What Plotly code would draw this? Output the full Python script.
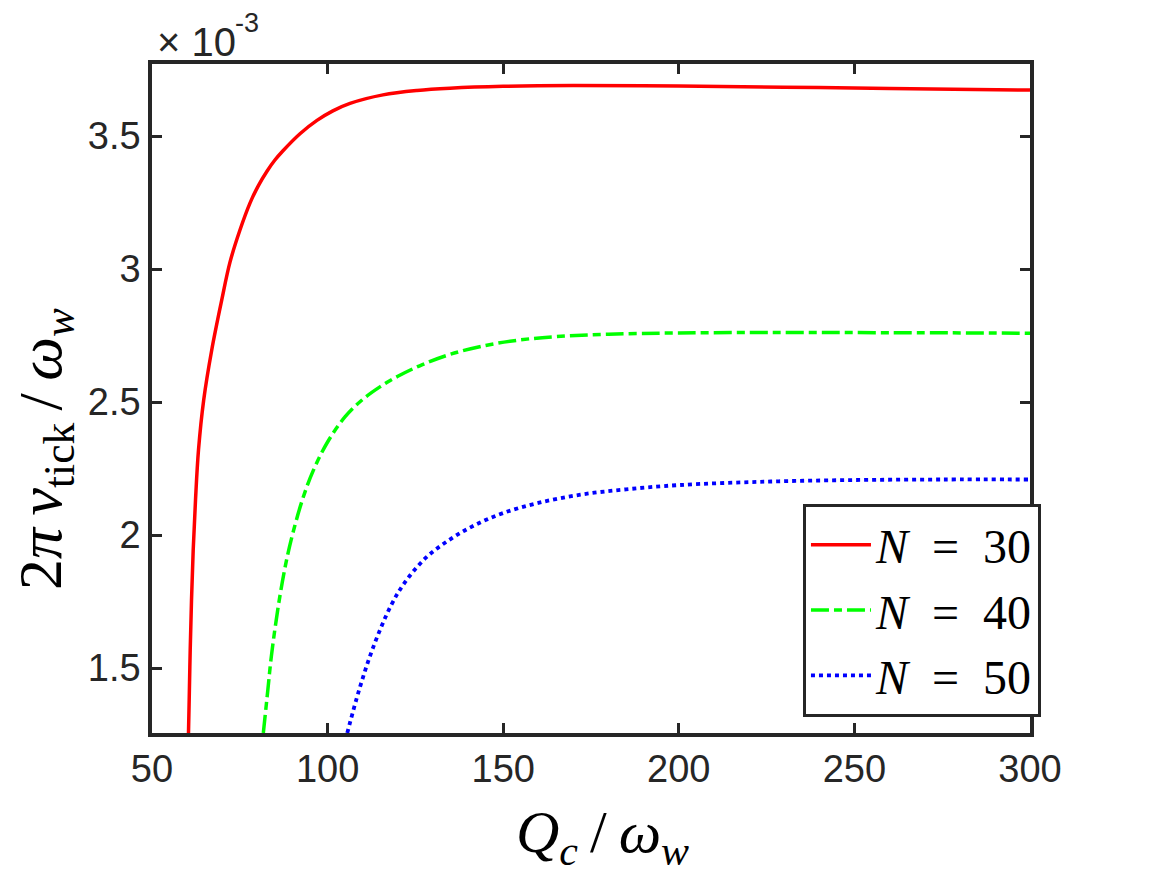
import plotly.graph_objects as go

# Data (y in units of 1e-3)
x_n30 = [60.39, 60.59, 60.88, 61.25, 61.73, 62.39, 63.24, 64.72, 67.0, 69.85, 72.21, 75.0, 77.9,
         80.3, 82.74, 85.0, 87.3, 92.14, 96.98, 101.5, 106.38, 115.77, 125.45, 134.85, 150, 170,
         200, 230, 260, 300]
y_n30 = [1.256, 1.380, 1.568, 1.756, 1.944, 2.132, 2.320, 2.508, 2.695, 2.883, 3.026, 3.145, 3.248,
         3.314, 3.368, 3.410, 3.445, 3.509, 3.559, 3.595, 3.623, 3.655, 3.6715, 3.680, 3.687, 3.690,
         3.688, 3.684, 3.679, 3.673]

x_n40 = [81.7, 83.0, 84.0, 86.0, 88.0, 90.0, 93.0, 96.0, 100.0, 105.0, 110.0, 115.0, 120.0, 127.0,
         135.0, 145.0, 155.0, 165.0, 180.0, 200.0, 225.0, 260.0, 300.0]
y_n40 = [1.256, 1.42, 1.546, 1.736, 1.886, 2.002, 2.140, 2.245, 2.350, 2.445, 2.510, 2.558, 2.597,
         2.641, 2.680, 2.713, 2.734, 2.746, 2.755, 2.760, 2.7615, 2.761, 2.759]

x_n50 = [105.6, 109.0, 113.0, 118.0, 122.0, 128.0, 135.0, 142.0, 150.0, 160.0, 172.0, 185.0, 200.0,
         225.0, 250.0, 275.0, 300.0]
y_n50 = [1.256, 1.419, 1.579, 1.734, 1.822, 1.915, 1.985, 2.038, 2.083, 2.121, 2.152, 2.172, 2.188,
         2.201, 2.207, 2.209, 2.209]

x_ticks = [50, 100, 150, 200, 250, 300]
y_ticks = [1.5, 2, 2.5, 3, 3.5]
y_ticktext = ["1.5", "2", "2.5", "3", "3.5"]

sp = "\u2002"
th = "\u2009"
series = [
    (x_n30, y_n30, f"<i>N</i>{sp}={sp}30", "#FF0000", "solid", 3.5),
    (x_n40, y_n40, f"<i>N</i>{sp}={sp}40", "#00FF00", "18px,5px,8px,5px", 3.5),
    (x_n50, y_n50, f"<i>N</i>{sp}={sp}50", "#0000FF", "4px,4px", 3.8),
]

fig = go.Figure()
for xs, ys, name, color, dash, w in series:
    fig.add_trace(go.Scatter(
        x=xs, y=ys, mode="lines", name=name,
        line=dict(color=color, width=w, dash=dash, shape="spline", smoothing=1.0),
    ))

axis_color = "#262626"
sans = "Liberation Sans, Arial, sans-serif"
serif = "Liberation Serif, Times New Roman, serif"
tickfont = dict(family=sans, size=38, color=axis_color)

fig.update_layout(
    width=1167, height=875,
    margin=dict(l=152, r=137, t=64, b=142),
    paper_bgcolor="white", plot_bgcolor="white",
    showlegend=True,
    legend=dict(
        x=1.0125, y=0.024, xanchor="right", yanchor="bottom",
        bgcolor="white", bordercolor=axis_color, borderwidth=3,
        font=dict(family=serif, size=48, color="black"),
        tracegroupgap=0, itemwidth=60,
    ),
    xaxis=dict(
        range=[50, 300], tickvals=x_ticks, ticks="inside", ticklen=10, tickwidth=2.5,
        tickcolor=axis_color, showline=True, linecolor=axis_color, linewidth=3.5,
        mirror="ticks", showgrid=False, zeroline=False, tickfont=tickfont,
    ),
    yaxis=dict(
        range=[1.256, 3.771], tickvals=y_ticks, ticktext=y_ticktext, ticks="inside",
        ticklen=10, tickwidth=2.5, tickcolor=axis_color, showline=True,
        linecolor=axis_color, linewidth=3.5, mirror="ticks", showgrid=False,
        zeroline=False, tickfont=tickfont,
    ),
    annotations=[
        dict(text="× 10", xref="paper", yref="paper", x=(155 - 152) / 878, y=1.0,
             xanchor="left", yanchor="bottom", showarrow=False, yshift=-2,
             font=dict(family=sans, size=40, color=axis_color)),
        dict(text="-3", xref="paper", yref="paper", x=(233 - 152) / 878, y=1.0,
             xanchor="left", yanchor="bottom", showarrow=False, yshift=24,
             font=dict(family=sans, size=27, color=axis_color)),
        dict(text=f"<i>Q</i><sub><i>c</i></sub>{th}/{th}<i>ω</i><sub><i>w</i></sub>",
             xref="paper", yref="paper", x=(602 - 152) / 878, y=0, xanchor="center",
             yanchor="top", yshift=-64, showarrow=False,
             font=dict(family=serif, size=60, color="black")),
        dict(text=f"2<i>π</i>{th}<i>ν</i><sub>tick</sub>{th}/{th}<i>ω</i><sub><i>w</i></sub>",
             xref="paper", yref="paper", x=0, y=(733 - 449) / 669, xanchor="center",
             yanchor="middle", xshift=-108, textangle=-90, showarrow=False,
             font=dict(family=serif, size=62, color="black")),
    ],
)

fig.write_html("out.html")
